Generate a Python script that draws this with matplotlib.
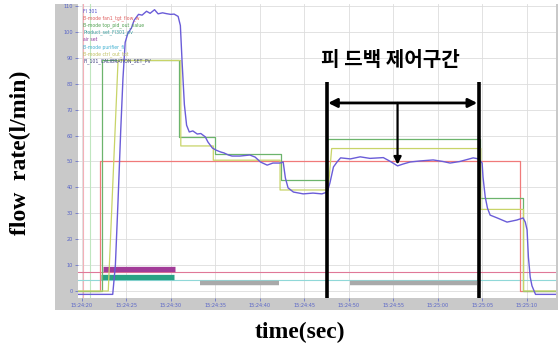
import matplotlib
matplotlib.use("Agg")
import matplotlib.pyplot as plt
from matplotlib.patches import Rectangle

# ---- data (seconds after 15:24:00, flow in l/min) ----
tick_seconds = [20, 25, 30, 35, 40, 45, 50, 55, 60, 65, 70]
time_labels = ["15:24:20", "15:24:25", "15:24:30", "15:24:35", "15:24:40",
               "15:24:45", "15:24:50", "15:24:55", "15:25:00", "15:25:05",
               "15:25:10"]
flow_ticks = [0, 10, 20, 30, 40, 50, 60, 70, 80, 90, 100, 110]

# measured flow (FI 301)
flow_t = [19.6, 23.5, 23.8, 24.1, 24.4, 24.65, 24.9, 25.2, 25.6, 25.9, 26.4,
          26.8, 27.3, 27.7, 28.2, 28.6, 29.1, 29.5, 30.0, 30.4, 30.85, 31.1,
          31.3, 31.55, 31.8, 32.1, 32.5, 33.0, 33.4, 33.9, 34.2, 34.7, 35.1,
          35.6, 36.0, 36.5, 36.9, 37.8, 38.9, 39.5, 40.1, 40.85, 41.5, 42.3,
          42.65, 42.9, 43.2, 43.8, 44.9, 46.0, 47.0, 47.6, 47.9, 48.3, 48.7,
          49.1, 50.2, 51.3, 52.4, 53.9, 54.7, 55.5, 56.1, 56.9, 58.0, 59.5,
          60.6, 61.4, 62.5, 64.0, 64.6, 65.0, 65.1, 65.35, 65.6, 65.9, 66.7,
          67.8, 68.9, 69.6, 69.85, 70.05, 70.2, 70.3, 70.4, 70.6, 71.0, 73.3]
flow_v = [-1.3, -1.3, 10, 35, 62, 82, 96, 99.5, 101.5, 104.5, 106.8,
          106.5, 108.0, 107.2, 108.6, 107.0, 107.4, 107.1, 106.8, 106.9, 106.0, 102.5,
          88, 72, 64, 61.4, 61.8, 60.6, 60.8, 59.5, 57.5, 55.2, 54.4,
          53.7, 53.3, 52.5, 52.1, 52.1, 52.5, 51.7, 49.8, 48.6, 49.4, 49.4,
          49.8, 43.6, 39.8, 38.2, 37.5, 37.8, 37.5, 38.2, 41.7, 47.9, 49.8,
          51.4, 51.0, 51.8, 51.2, 51.5, 50.0, 48.3, 49.0, 49.8, 50.2, 50.6,
          50.0, 49.4, 50.0, 51.4, 51.0, 49.4, 44.0, 36.3, 32.0, 29.3, 28.2,
          26.6, 27.4, 28.2, 26.6, 23.6, 13.1, 9.3, 5.4, 2.0, -1.3, -1.3]

# flow set point
setpoint_t = [19.6, 22.1, 69.3, 73.3]
setpoint_v = [0, 50, 0, 0]

# valve / controller outputs (step signals)
green_t = [19.6, 22.3, 31.0, 35.0, 42.45, 47.55, 64.75, 69.55, 73.3]
green_v = [0, 89, 59.5, 53, 43, 58.5, 36, 0, 0]
yellow_t = [19.6, 23.0, 24.1, 31.15, 31.15, 34.8, 34.8, 42.3, 42.3, 47.7,
            48.1, 64.85, 64.85, 69.65, 69.65, 73.3]
yellow_v = [0, 0, 89, 89, 56, 56, 50.5, 50.5, 39, 39,
            55, 55, 31.5, 31.5, 0, 0]

# on/off status bars: (start, end, level)
magenta_bar = (22.46, 30.5, 8.5)
teal_bar = (22.2, 30.4, 5.4)
gray_bars = [(33.3, 42.2, 3.0), (50.2, 64.4, 3.0)]
pink_level = 7.3
cyan_level = 4.4
event_times = [20.2, 20.9]

# feedback control interval
feedback_start, feedback_end = 47.55, 64.6

legend_entries = ["FI 301", "B-mode fan1_tgt_flow_w", "B-mode top_pid_out_value",
                  "Product_set_FI301_pv", "air set", "B-mode purifier_fi",
                  "B-mode ctrl_out_tot", "FI_101_CALIBRATION_SET_PV"]
legend_colors = ["#5050d0", "#e06060", "#50a050", "#40a0a0", "#9040a0",
                 "#40b0d0", "#c0c060", "#404080"]

W, H = 560, 347
fig = plt.figure(figsize=(W / 100, H / 100), dpi=100)
fig.patch.set_facecolor("white")

# grey frame of the trend window
fig.add_artist(Rectangle((55 / W, 1 - 310 / H), (558 - 55) / W, 306 / H,
                         transform=fig.transFigure, facecolor="#c9c9c9",
                         edgecolor="none", zorder=0))

ax = fig.add_axes([78 / W, 1 - 298 / H, (556 - 78) / W, (298 - 4) / H])
ax.set_facecolor("white")
ax.set_xlim(19.6, 73.3)
ax.set_ylim(-2.7, 110.8)
for s in ax.spines.values():
    s.set_visible(False)

ax.set_xticks(tick_seconds)
ax.set_xticklabels(time_labels)
ax.set_yticks(flow_ticks)
ax.set_yticklabels([str(v) for v in flow_ticks])
ax.tick_params(axis="both", labelsize=3.6, colors="#5864c8", length=2,
               width=0.5, pad=1.5)
ax.grid(True, color="#dddddd", linewidth=0.6)
ax.set_axisbelow(True)

for t, c in zip(event_times, ["#f4b0b8", "#bfe6bf"]):
    ax.axvline(t, color=c, linewidth=0.8, zorder=1)

ax.axhline(pink_level, color="#e07898", linewidth=0.8, zorder=2)
ax.axhline(cyan_level, color="#90d8d8", linewidth=0.8, zorder=2)

ax.plot(magenta_bar[:2], [magenta_bar[2]] * 2, color="#a23c98", linewidth=3.8,
        solid_capstyle="butt", zorder=3)
ax.plot(teal_bar[:2], [teal_bar[2]] * 2, color="#2aa284", linewidth=3.8,
        solid_capstyle="butt", zorder=3)
for a, b, lv in gray_bars:
    ax.plot([a, b], [lv, lv], color="#a9a9a9", linewidth=3.2,
            solid_capstyle="butt", zorder=3)

ax.step(setpoint_t, setpoint_v, where="post", color="#f07a7a", linewidth=0.9, zorder=4)
ax.step(green_t, green_v, where="post", color="#6cb46c", linewidth=0.9, zorder=4)
ax.plot(yellow_t, yellow_v, color="#c8d468", linewidth=0.9, zorder=4)
ax.plot(flow_t, flow_v, color="#6a5cd8", linewidth=1.0, zorder=5)

# legend block
for i, (txt, c) in enumerate(zip(legend_entries, legend_colors)):
    ax.text(20.2, 108.0 - i * 2.75, txt, fontsize=3.3, color=c,
            ha="left", va="center", zorder=6)

# feedback interval annotation
ax.plot([feedback_start] * 2, [-2.7, 80.7], color="black", linewidth=2.6,
        solid_capstyle="butt", zorder=7)
ax.plot([feedback_end] * 2, [-2.7, 80.7], color="black", linewidth=2.6,
        solid_capstyle="butt", zorder=7)
ax.annotate("", xy=(feedback_start + 0.15, 72.6), xytext=(feedback_end - 0.15, 72.6),
            arrowprops=dict(arrowstyle="<|-|>", color="black", lw=2.0,
                            mutation_scale=13, shrinkA=0, shrinkB=0), zorder=7)
mid = 55.5
ax.annotate("", xy=(mid, 48.8), xytext=(mid, 72.6),
            arrowprops=dict(arrowstyle="-|>", color="black", lw=1.6,
                            mutation_scale=11, shrinkA=0, shrinkB=0), zorder=7)
ax.text(54.7, 89.2, "피 드백 제어구간", fontsize=14.5, color="black",
        ha="center", va="center", family=["Noto Sans CJK KR", "DejaVu Sans"],
        weight="bold", zorder=7)

fig.text(20 / W, 1 - 153 / H, "flow  rate(l/min)", rotation=90, fontsize=17,
         family="Liberation Serif", weight="bold", ha="center", va="center")
fig.text(300 / W, 1 - 332 / H, "time(sec)", fontsize=17,
         family="Liberation Serif", weight="bold", ha="center", va="center")

fig.savefig("out.png", dpi=100)
